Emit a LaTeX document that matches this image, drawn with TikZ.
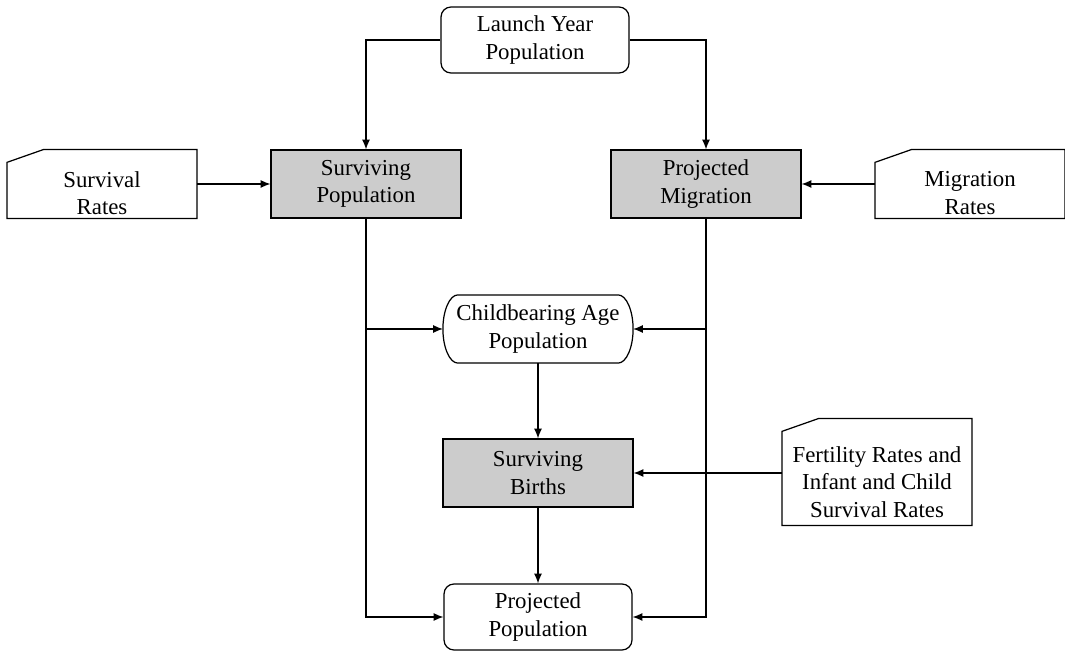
\documentclass[tikz,border=0pt]{standalone}
\usepackage{fontspec}
\setmainfont{Liberation Serif}
\usetikzlibrary{arrows.meta}

\begin{document}
\begin{tikzpicture}[x=0.02cm, y=-0.02cm, line width=0.7pt,
  font=\fontsize{13}{15.5}\selectfont,
  every node/.style={align=center},
  box/.style={draw, rounded corners=0.2cm, minimum width=3.76cm, minimum height=1.32cm},
  calc/.style={draw, fill=black!20, minimum width=3.8cm, minimum height=1.36cm},
  card/.style={minimum width=3.78cm, minimum height=1.36cm},
  arr/.style={-{Latex[length=5.5pt,width=4.5pt]}}]
\useasboundingbox (0,0) rectangle (1065,651);

\node[box] (lyp) at (535,40) {Launch Year\\Population};
\node[calc] (sp) at (366,184) {Surviving\\Population};
\node[calc] (pm) at (706,184) {Projected\\Migration};
\node[card] (sr) at (102,184) {};
\node[card] (mr) at (970,184) {};
\node[card, minimum height=1.34cm] (cap) at (538,329) {Childbearing Age\\Population};
\node[calc] (sb) at (538,473) {Surviving\\Births};
\node[card, minimum height=2.12cm] (fr) at (877,472) {};
\node[box] (pp) at (538,617) {Projected\\Population};

% rate tables
\foreach \n in {sr,mr,fr}
  \draw ([shift={(0,13)}]\n.north west) -- ([shift={(37,0)}]\n.north west)
    -- (\n.north east) -- (\n.south east) -- (\n.south west) -- cycle;
\node (srt) at ([shift={(0,9)}]sr.center) {Survival\\Rates};
\node (mrt) at ([shift={(0,9)}]mr.center) {Migration\\Rates};
\node (frt) at ([shift={(0,10)}]fr.center) {Fertility Rates and\\Infant and Child\\Survival Rates};

% flat oval
\draw ([xshift=0.3cm]cap.north west) -- ([xshift=-0.3cm]cap.north east)
  .. controls ([xshift=-0.135cm]cap.north east) and ([yshift=0.37cm]cap.east) .. (cap.east)
  .. controls ([yshift=-0.37cm]cap.east) and ([xshift=-0.135cm]cap.south east) .. ([xshift=-0.3cm]cap.south east)
  -- ([xshift=0.3cm]cap.south west)
  .. controls ([xshift=0.135cm]cap.south west) and ([yshift=-0.37cm]cap.west) .. (cap.west)
  .. controls ([yshift=0.37cm]cap.west) and ([xshift=0.135cm]cap.north west) .. cycle;

\draw[arr] (lyp.west) -| (sp.north);
\draw[arr] (lyp.east) -| (pm.north);
\draw[arr] (sr.east) -- (sp.west);
\draw[arr] (mr.west) -- (pm.east);
\draw[arr] (sp.south) |- (pp.west);
\draw[arr] (pm.south) |- (pp.east);
\draw[arr] (sp.south |- cap.west) -- (cap.west);
\draw[arr] (pm.south |- cap.east) -- (cap.east);
\draw[arr] (cap) -- (sb);
\draw[arr] (fr.west |- sb.east) -- (sb.east);
\draw[arr] (sb) -- (pp);
\end{tikzpicture}
\end{document}
